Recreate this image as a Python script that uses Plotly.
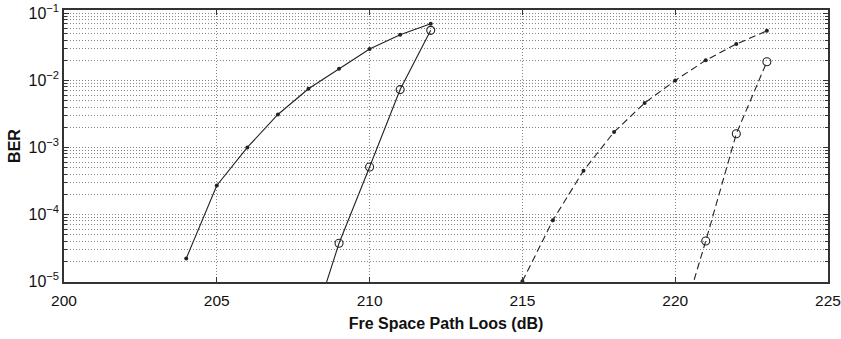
import plotly.graph_objects as go

x1 = [204, 205, 206, 207, 208, 209, 210, 211, 212]
ber1 = [2.2e-5, 2.7e-4, 1.0e-3, 3.1e-3, 7.5e-3, 1.5e-2, 2.95e-2, 4.8e-2, 7.0e-2]

x2 = [208, 209, 210, 211, 212]
ber2 = [1.4e-6, 3.7e-5, 5.1e-4, 7.3e-3, 5.6e-2]

x3 = [215, 216, 217, 218, 219, 220, 221, 222, 223]
ber3 = [1.0e-5, 8.2e-5, 4.5e-4, 1.7e-3, 4.6e-3, 1.0e-2, 2.0e-2, 3.5e-2, 5.5e-2]

x4 = [220, 221, 222, 223]
ber4 = [1.2e-6, 4.0e-5, 1.6e-3, 1.9e-2]

xticks = [200, 205, 210, 215, 220, 225]
yticks = [1e-5, 1e-4, 1e-3, 1e-2, 1e-1]
yticklabels = ["10<sup>\u22125</sup>", "10<sup>\u22124</sup>", "10<sup>\u22123</sup>",
               "10<sup>\u22122</sup>", "10<sup>\u22121</sup>"]

TICKFONT = "Liberation Sans, Arial, sans-serif"
TITLEFONT = "Liberation Sans, Arial, sans-serif"
LC = "#222222"
GC = "#858585"
DOT = "1px,2px"

fig = go.Figure()
fig.add_trace(go.Scatter(x=x1, y=ber1, mode="lines+markers",
                         line=dict(color=LC, width=1.1),
                         marker=dict(symbol="circle", size=4, color=LC)))
fig.add_trace(go.Scatter(x=x2, y=ber2, mode="lines+markers",
                         line=dict(color=LC, width=1.1),
                         marker=dict(symbol="circle-open", size=8, color=LC, line=dict(width=1.1))))
fig.add_trace(go.Scatter(x=x3, y=ber3, mode="lines+markers",
                         line=dict(color=LC, width=1.1, dash="7px,4px"),
                         marker=dict(symbol="circle", size=4, color=LC)))
fig.add_trace(go.Scatter(x=x4, y=ber4, mode="lines+markers",
                         line=dict(color=LC, width=1.1, dash="7px,4px"),
                         marker=dict(symbol="circle-open", size=8, color=LC, line=dict(width=1.1))))

fig.update_layout(
    width=841, height=339,
    margin=dict(l=64, r=13, t=10, b=57),
    paper_bgcolor="white", plot_bgcolor="white",
    showlegend=False,
    font=dict(family=TICKFONT, size=15.5, color="#111111"),
    xaxis=dict(
        range=[200, 225], tickvals=xticks, ticktext=[str(v) for v in xticks],
        automargin=False,
        ticklabeloverflow="allow", ticklabelstandoff=4,
        tickfont=dict(family=TICKFONT, size=15.5),
        showline=True, linecolor="#333333", linewidth=1.5, mirror="allticks",
        ticks="inside", ticklen=5, tickcolor="#333333",
        showgrid=True, gridcolor=GC, griddash=DOT, gridwidth=1,
        zeroline=False,
        title=dict(text="<b>Fre Space Path Loos (dB)</b>", font=dict(family=TITLEFONT, size=16), standoff=9),
    ),
    yaxis=dict(
        type="log", range=[-5.01, -0.948],
        tickvals=yticks, ticktext=yticklabels,
        automargin=False,
        tickfont=dict(family=TICKFONT, size=16),
        showline=True, linecolor="#333333", linewidth=1.5, mirror="allticks",
        ticks="inside", ticklen=5, tickcolor="#333333",
        showgrid=True, gridcolor=GC, griddash=DOT, gridwidth=1,
        zeroline=False,
        minor=dict(dtick="D1", ticks="inside", ticklen=3, tickcolor="#333333",
                   showgrid=True, gridcolor=GC, griddash=DOT, gridwidth=1),
        title=dict(text="<b>BER</b>", font=dict(family=TITLEFONT, size=16), standoff=4),
    ),
)

fig.write_html("out.html")
